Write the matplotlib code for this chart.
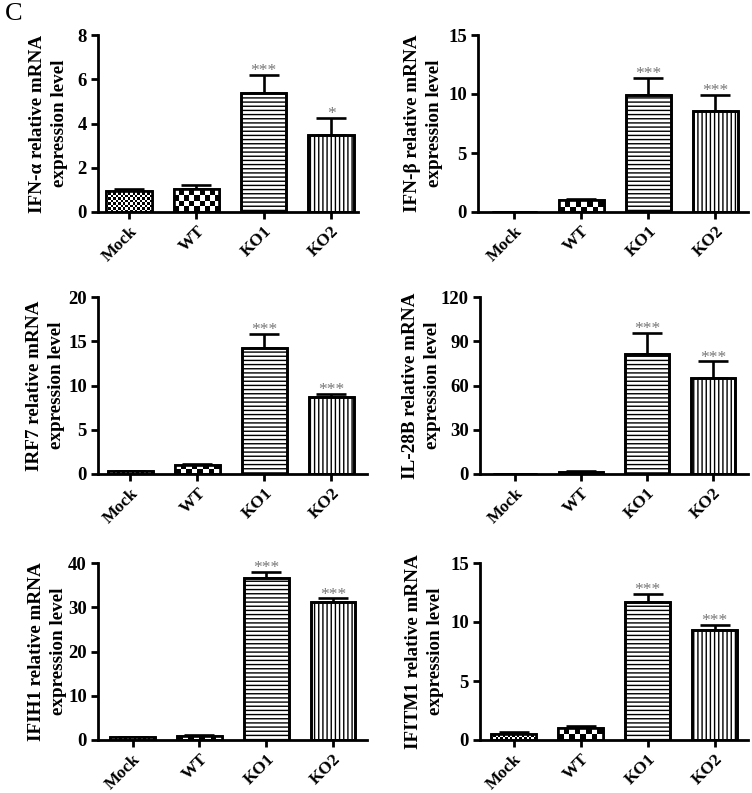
import numpy as np
import matplotlib
matplotlib.use("Agg")
import matplotlib.pyplot as plt

plt.rcParams['font.family'] = ['Liberation Serif', 'DejaVu Serif']
plt.rcParams['hatch.linewidth'] = 1.0

categories = ['Mock', 'WT', 'KO1', 'KO2']

genes = ['IFN-α', 'IFN-β', 'IRF7', 'IL-28B', 'IFIH1', 'IFITM1']

ifna_mean = [0.93, 1.04, 5.38, 3.48]
ifna_err = [0.10, 0.19, 0.80, 0.78]
ifnb_mean = [0.0, 1.01, 9.92, 8.54]
ifnb_err = [0.0, 0.09, 1.43, 1.35]
irf7_mean = [0.34, 0.98, 14.2, 8.68]
irf7_err = [0.05, 0.15, 1.60, 0.38]
il28b_mean = [0.0, 1.5, 81.2, 64.8]
il28b_err = [0.0, 0.7, 14.5, 11.5]
ifih1_mean = [0.68, 1.0, 36.6, 31.2]
ifih1_err = [0.05, 0.05, 1.3, 0.8]
ifitm1_mean = [0.53, 1.04, 11.7, 9.32]
ifitm1_err = [0.12, 0.11, 0.70, 0.43]

ifna_stars = ['', '', '***', '*']
other_stars = ['', '', '***', '***']

ifna_ticks = [0, 2, 4, 6, 8]
ifnb_ticks = [0, 5, 10, 15]
irf7_ticks = [0, 5, 10, 15, 20]
il28b_ticks = [0, 30, 60, 90, 120]
ifih1_ticks = [0, 10, 20, 30, 40]
ifitm1_ticks = [0, 5, 10, 15]

panels = [
    (ifna_mean, ifna_err, ifna_stars, ifna_ticks),
    (ifnb_mean, ifnb_err, other_stars, ifnb_ticks),
    (irf7_mean, irf7_err, other_stars, irf7_ticks),
    (il28b_mean, il28b_err, other_stars, il28b_ticks),
    (ifih1_mean, ifih1_err, other_stars, ifih1_ticks),
    (ifitm1_mean, ifitm1_err, other_stars, ifitm1_ticks),
]

W, H = 752, 793
fig = plt.figure(figsize=(W / 100, H / 100), dpi=100)

# axes boxes in pixels: left, right, top, bottom
boxes = [
    (98, 358, 35, 212),
    (478, 748, 35, 212),
    (98, 367, 297, 474),
    (480, 748, 297, 474),
    (98, 367, 563, 740),
    (480, 748, 563, 740),
]
xlims = [(-0.46, 3.4), (-0.54, 3.49), (-0.48, 3.53), (-0.53, 3.53), (-0.52, 3.51), (-0.5, 3.5)]
label_off = [-30, -35, -33, -39, -31, -36]

bar_w = 0.67
x = np.arange(len(categories))


def checker(ax, patch, cell_px):
    bb = patch.get_bbox()
    x0, x1 = bb.x0, bb.x1
    y0, y1 = bb.y0, bb.y1
    if y1 - y0 <= 0:
        return
    p0 = ax.transData.transform((x0, y0))
    p1 = ax.transData.transform((x1, y1))
    wpx = abs(p1[0] - p0[0])
    hpx = abs(p1[1] - p0[1])
    nc = max(1, int(round(wpx / cell_px)))
    nr = max(1, int(np.ceil(hpx / cell_px)))
    yy, xx = np.mgrid[0:nr, 0:nc]
    arr = ((xx + yy) % 2).astype(float)
    top = y0 + nr * cell_px * (y1 - y0) / hpx
    im = ax.imshow(arr, extent=(x0, x1, y0, top), origin='lower', cmap='gray',
                   interpolation='nearest', aspect='auto', zorder=2.5, vmin=0, vmax=1)
    im.set_clip_path(patch)


for i, (mean, err, stars, ticks) in enumerate(panels):
    l, r, t, b = boxes[i]
    ax = fig.add_axes([l / W, 1 - b / H, (r - l) / W, (b - t) / H])
    ax.set_xlim(*xlims[i])
    ax.set_ylim(0, ticks[-1])
    bars = ax.bar(x, mean, width=bar_w, color='white', edgecolor='black',
                  linewidth=1.9, zorder=2)
    bars[2].set_hatch('----')
    bars[3].set_hatch('||||')
    fig.canvas.draw()
    checker(ax, bars[0], 2.4)
    checker(ax, bars[1], 5.3)
    ax.bar(x, mean, width=bar_w, fill=False, edgecolor='black', linewidth=1.9, zorder=3)
    lower = [0] * len(mean)
    ax.errorbar(x, mean, yerr=[lower, err], fmt='none', ecolor='black',
                elinewidth=1.9, capsize=10.5, capthick=1.9, zorder=1.5)
    for xi, m, e, s in zip(x, mean, err, stars):
        if s:
            ax.annotate(s, (xi, m + e), xytext=(0, -3), textcoords='offset points',
                        ha='center', va='bottom', fontsize=12.5, color='#777777')
    ax.set_xlim(*xlims[i])
    ax.set_ylim(0, ticks[-1])
    ax.set_yticks(ticks)
    ax.set_xticks(x)
    ax.set_xticklabels(categories, rotation=45, ha='right', va='top',
                       rotation_mode='anchor', fontweight='bold', fontsize=12.5)
    for lab in ax.get_yticklabels():
        lab.set_fontweight('bold')
        lab.set_fontsize(13.5)
    for side in ['top', 'right']:
        ax.spines[side].set_visible(False)
    for side in ['left', 'bottom']:
        ax.spines[side].set_linewidth(2)
    ax.tick_params(axis='both', width=2, length=5, direction='out', pad=3)
    ax.set_ylabel(genes[i] + ' relative mRNA\nexpression level', fontsize=13.8,
                  fontweight='bold', linespacing=1.4)
    ax.yaxis.set_label_coords(label_off[i] / (r - l), 0.5)

fig.text(5 / W, 1 - 3 / H, 'C', fontsize=19, ha='left', va='top')

fig.savefig('out.png', dpi=100)
